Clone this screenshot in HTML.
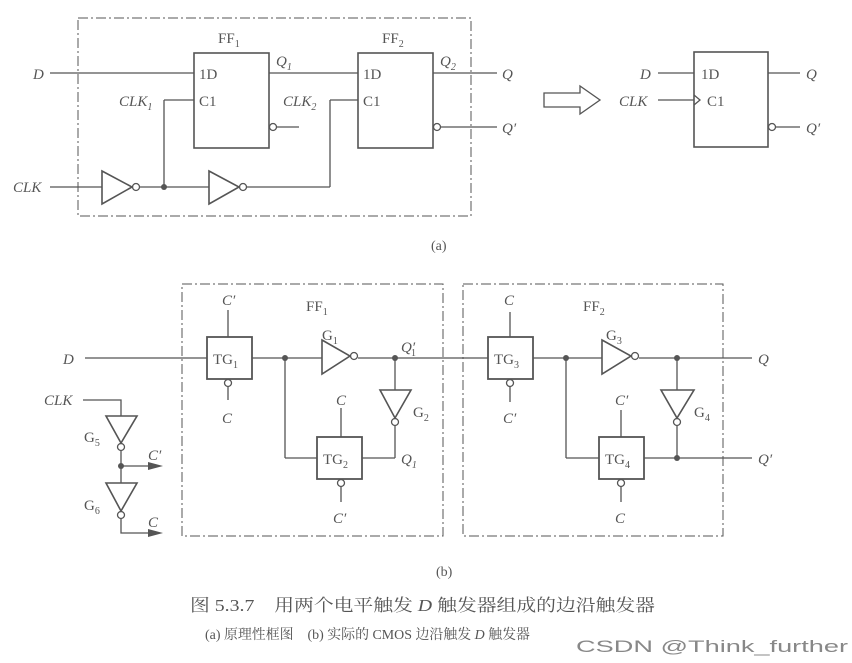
<!DOCTYPE html>
<html><head><meta charset="utf-8"><style>
html,body{margin:0;padding:0;background:#fff;}
svg{display:block}
text{font-family:"Liberation Serif","Noto Serif CJK SC",serif;fill:#555;}
.i{font-style:italic}
</style></head><body>
<svg width="852" height="663" viewBox="0 0 852 663" xmlns="http://www.w3.org/2000/svg">
<g stroke="#555" fill="none" stroke-width="1.3">
<rect x="78" y="18" width="393" height="198" stroke-dasharray="10,3,2,3" stroke-width="1"/>
<rect x="194" y="53" width="75" height="95" stroke-width="1.6"/>
<rect x="358" y="53" width="75" height="95" stroke-width="1.6"/>
<line x1="50" y1="73" x2="194" y2="73"/>
<line x1="269" y1="73" x2="358" y2="73"/>
<line x1="433" y1="73" x2="497" y2="73"/>
<line x1="164" y1="100" x2="194" y2="100"/>
<line x1="164" y1="100" x2="164" y2="187"/>
<line x1="330" y1="100" x2="358" y2="100"/>
<line x1="330" y1="100" x2="330" y2="187"/>
<circle cx="273" cy="127" r="3.5"/><line x1="277" y1="127" x2="299" y2="127"/>
<circle cx="437" cy="127" r="3.5"/><line x1="441" y1="127" x2="497" y2="127"/>
<line x1="50" y1="187" x2="102" y2="187"/>
<polygon points="102,171 132,187 102,204" stroke-width="1.6"/>
<circle cx="136" cy="187" r="3.5"/>
<line x1="140" y1="187" x2="209" y2="187"/>
<polygon points="209,171 239,187 209,204" stroke-width="1.6"/>
<circle cx="243" cy="187" r="3.5"/>
<line x1="247" y1="187" x2="330" y2="187"/>
<polygon points="544,93 580,93 580,86 600,100 580,114 580,107 544,107"/>
<rect x="694" y="52" width="74" height="95" stroke-width="1.6"/>
<line x1="658" y1="73" x2="694" y2="73"/>
<line x1="658" y1="100" x2="694" y2="100"/>
<polyline points="694,95 700,100 694,105"/>
<line x1="768" y1="73" x2="800" y2="73"/>
<circle cx="772" cy="127" r="3.5"/><line x1="776" y1="127" x2="800" y2="127"/>
<rect x="182" y="284" width="261" height="252" stroke-dasharray="10,3,2,3" stroke-width="1"/>
<rect x="463" y="284" width="260" height="252" stroke-dasharray="10,3,2,3" stroke-width="1"/>
<line x1="85" y1="358" x2="207" y2="358"/>
<rect x="207" y="337" width="45" height="42" stroke-width="1.8"/>
<line x1="228" y1="310" x2="228" y2="337"/>
<circle cx="228" cy="383" r="3.5"/><line x1="228" y1="387" x2="228" y2="400"/>
<line x1="252" y1="358" x2="322" y2="358"/>
<polygon points="322,340 350,356 322,374" stroke-width="1.6"/>
<circle cx="354" cy="356" r="3.5"/>
<line x1="358" y1="358" x2="488" y2="358"/>
<line x1="395" y1="358" x2="395" y2="390"/>
<polygon points="380,390 411,390 395,418" stroke-width="1.6"/>
<circle cx="395" cy="422" r="3.5"/>
<line x1="395" y1="426" x2="395" y2="458"/>
<line x1="285" y1="358" x2="285" y2="458"/><line x1="285" y1="458" x2="317" y2="458"/>
<rect x="317" y="437" width="45" height="42" stroke-width="1.8"/>
<line x1="341" y1="408" x2="341" y2="437"/>
<circle cx="341" cy="483" r="3.5"/><line x1="341" y1="487" x2="341" y2="502"/>
<line x1="362" y1="458" x2="395" y2="458"/>
<polyline points="83,400 121,400 121,416"/>
<polygon points="106,416 137,416 121,443" stroke-width="1.6"/>
<circle cx="121" cy="447" r="3.5"/>
<line x1="121" y1="451" x2="121" y2="483"/>
<line x1="121" y1="466" x2="158" y2="466"/>
<polygon points="106,483 137,483 121,511" stroke-width="1.6"/>
<circle cx="121" cy="515" r="3.5"/>
<polyline points="121,519 121,533 158,533"/>
<rect x="488" y="337" width="45" height="42" stroke-width="1.8"/>
<line x1="510" y1="312" x2="510" y2="337"/>
<circle cx="510" cy="383" r="3.5"/><line x1="510" y1="387" x2="510" y2="402"/>
<line x1="533" y1="358" x2="602" y2="358"/>
<polygon points="602,340 631,356 602,374" stroke-width="1.6"/>
<circle cx="635" cy="356" r="3.5"/>
<line x1="639" y1="358" x2="752" y2="358"/>
<line x1="677" y1="358" x2="677" y2="390"/>
<polygon points="661,390 694,390 677,418" stroke-width="1.6"/>
<circle cx="677" cy="422" r="3.5"/>
<line x1="677" y1="426" x2="677" y2="458"/>
<line x1="566" y1="358" x2="566" y2="458"/><line x1="566" y1="458" x2="599" y2="458"/>
<rect x="599" y="437" width="45" height="42" stroke-width="1.8"/>
<line x1="621" y1="410" x2="621" y2="437"/>
<circle cx="621" cy="483" r="3.5"/><line x1="621" y1="487" x2="621" y2="502"/>
<line x1="644" y1="458" x2="752" y2="458"/>
</g>
<g fill="#555">
<circle cx="164" cy="187" r="3"/>
<circle cx="285" cy="358" r="3"/><circle cx="395" cy="358" r="3"/>
<circle cx="566" cy="358" r="3"/><circle cx="677" cy="358" r="3"/><circle cx="677" cy="458" r="3"/>
<circle cx="121" cy="466" r="3"/>
<polygon points="148,462 163,466 148,470"/>
<polygon points="148,529 163,533 148,537"/>
</g>
<g font-size="15">
<text x="218" y="43">FF<tspan font-size="10" dy="4">1</tspan></text>
<text x="382" y="43">FF<tspan font-size="10" dy="4">2</tspan></text>
<text class="i" x="33" y="79">D</text>
<text x="199" y="79">1D</text><text x="199" y="106">C1</text>
<text x="363" y="79">1D</text><text x="363" y="106">C1</text>
<text class="i" x="119" y="106">CLK<tspan font-size="10" dy="4">1</tspan></text>
<text class="i" x="283" y="106">CLK<tspan font-size="10" dy="4">2</tspan></text>
<text class="i" x="276" y="66">Q<tspan font-size="10" dy="4">1</tspan></text>
<text class="i" x="440" y="66">Q<tspan font-size="10" dy="4">2</tspan></text>
<text class="i" x="502" y="79">Q</text><text class="i" x="502" y="133">Q′</text>
<text class="i" x="13" y="192">CLK</text>
<text x="431" y="250" font-size="14">(a)</text>
<text class="i" x="640" y="79">D</text>
<text class="i" x="619" y="106">CLK</text>
<text x="701" y="79">1D</text><text x="707" y="106">C1</text>
<text class="i" x="806" y="79">Q</text><text class="i" x="806" y="133">Q′</text>
<text x="306" y="311">FF<tspan font-size="10" dy="4">1</tspan></text>
<text x="583" y="311">FF<tspan font-size="10" dy="4">2</tspan></text>
<text class="i" x="63" y="364">D</text>
<text x="213" y="364">TG<tspan font-size="10" dy="4">1</tspan></text>
<text x="323" y="464">TG<tspan font-size="10" dy="4">2</tspan></text>
<text x="494" y="364">TG<tspan font-size="10" dy="4">3</tspan></text>
<text x="605" y="464">TG<tspan font-size="10" dy="4">4</tspan></text>
<text class="i" x="222" y="305">C′</text>
<text class="i" x="222" y="423">C</text>
<text class="i" x="336" y="405">C</text>
<text class="i" x="333" y="523">C′</text>
<text class="i" x="504" y="305">C</text>
<text class="i" x="503" y="423">C′</text>
<text class="i" x="615" y="405">C′</text>
<text class="i" x="615" y="523">C</text>
<text x="322" y="340">G<tspan font-size="10" dy="4">1</tspan></text>
<text x="413" y="417">G<tspan font-size="10" dy="4">2</tspan></text>
<text x="606" y="340">G<tspan font-size="10" dy="4">3</tspan></text>
<text x="694" y="417">G<tspan font-size="10" dy="4">4</tspan></text>
<text x="84" y="442">G<tspan font-size="10" dy="4">5</tspan></text>
<text x="84" y="510">G<tspan font-size="10" dy="4">6</tspan></text>
<text class="i" x="401" y="352">Q′</text>
<text x="411" y="356" font-size="10">1</text>
<text class="i" x="401" y="464">Q<tspan font-size="10" dy="4">1</tspan></text>
<text class="i" x="758" y="364">Q</text><text class="i" x="758" y="464">Q′</text>
<text class="i" x="44" y="405">CLK</text>
<text class="i" x="148" y="460">C′</text>
<text class="i" x="148" y="527">C</text>
<text x="436" y="576" font-size="14">(b)</text>
</g>
<text x="190" y="611" font-size="17" textLength="465" lengthAdjust="spacingAndGlyphs">图 5.3.7　用两个电平触发 <tspan class="i">D</tspan> 触发器组成的边沿触发器</text>
<text x="205" y="639" font-size="14" textLength="325" lengthAdjust="spacingAndGlyphs">(a) 原理性框图　(b) 实际的 CMOS 边沿触发 <tspan class="i">D</tspan> 触发器</text>
<text x="576" y="652" font-size="17" textLength="272" lengthAdjust="spacingAndGlyphs" style="font-family:'Liberation Sans',sans-serif;fill:#888">CSDN @Think_further</text>
</svg>
</body></html>
